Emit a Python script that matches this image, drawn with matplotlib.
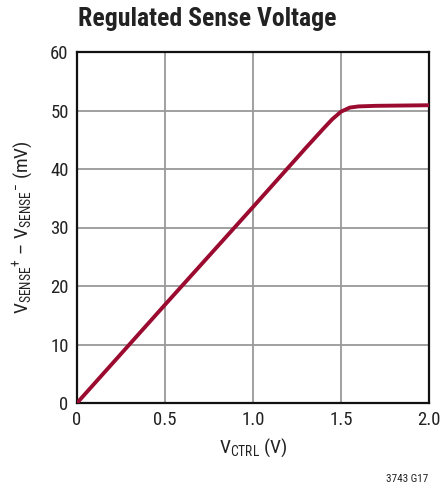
import matplotlib
matplotlib.use("Agg")
import matplotlib.pyplot as plt
import numpy as np

x_vals = [0.0, 0.5, 1.0, 1.3, 1.4, 1.45, 1.5, 1.55, 1.6, 1.7, 1.85, 2.0]
y_vals = [0.0, 16.8, 33.5, 43.6, 46.9, 48.5, 49.8, 50.5, 50.7, 50.8, 50.85, 50.9]
x_ticks = [0, 0.5, 1.0, 1.5, 2.0]
x_ticklabels = ["0", "0.5", "1.0", "1.5", "2.0"]
y_ticks = [0, 10, 20, 30, 40, 50, 60]

FONT = 'Roboto Condensed'
plt.rcParams['font.family'] = [FONT, 'DejaVu Sans']
plt.rcParams['mathtext.fontset'] = 'custom'
plt.rcParams['mathtext.rm'] = FONT
plt.rcParams['mathtext.it'] = FONT
plt.rcParams['mathtext.bf'] = FONT + ':bold'

fig = plt.figure(figsize=(4.43, 4.96), dpi=100)
ax = fig.add_axes([77/443, 1-403/496, (429-77)/443, (403-52)/496])

xs = np.array(x_vals); ys = np.array(y_vals)
ax.plot(xs, ys, color='#9b0b2f', lw=2.8, solid_capstyle='round', zorder=3)

ax.set_xlim(0, 2.0)
ax.set_ylim(0, 60)
ax.set_xticks(x_ticks)
ax.set_xticklabels(x_ticklabels)
ax.set_yticks(y_ticks)
ax.grid(True, color='#999999', lw=1.3)
ax.tick_params(length=0, labelsize=13.5, pad=6, colors='#222222')
for s in ax.spines.values():
    s.set_linewidth(1.6)
    s.set_color('#111111')

ax.set_xlabel(r'V$_{\rm CTRL}$ (V)', fontsize=14, color='#222222', labelpad=5)
ax.set_ylabel(r'V$_{\rm SENSE}$$^{+}$ – V$_{\rm SENSE}$$^{-}$ (mV)', fontsize=14, color='#222222', labelpad=11)

fig.text(78/443, 1-19/496, 'Regulated Sense Voltage', fontsize=18.5, fontweight='bold',
         color='#222222', ha='left', va='center')
fig.text(428/443, 1-479/496, '3743 G17', fontsize=8, color='#222222', ha='right', va='center')

fig.savefig('out.png', dpi=100)
